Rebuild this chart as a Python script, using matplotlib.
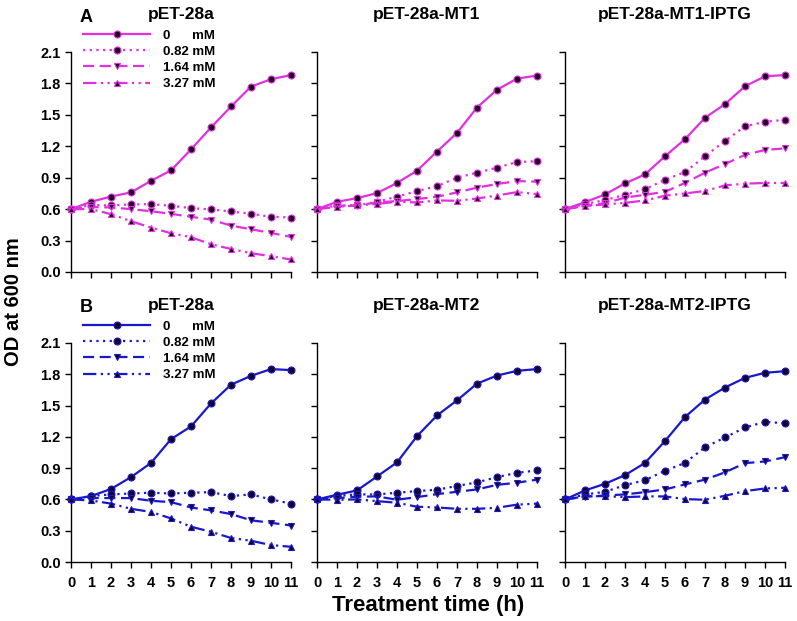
import matplotlib
matplotlib.use("Agg")
import matplotlib.pyplot as plt
import numpy as np

plt.rcParams['font.family'] = ['Liberation Sans', 'DejaVu Sans']
plt.rcParams['font.weight'] = 'bold'

hours = list(range(12))
conc_labels = ["0      mM", "0.82 mM", "1.64 mM", "3.27 mM"]

titles_top = ["pET-28a", "pET-28a-MT1", "pET-28a-MT1-IPTG"]
titles_bottom = ["pET-28a", "pET-28a-MT2", "pET-28a-MT2-IPTG"]

# Row A (magenta)
a1_0 = [0.60, 0.67, 0.72, 0.76, 0.87, 0.97, 1.17, 1.38, 1.58, 1.77, 1.84, 1.88]
a1_1 = [0.60, 0.64, 0.635, 0.645, 0.648, 0.632, 0.61, 0.597, 0.578, 0.555, 0.527, 0.52]
a1_2 = [0.60, 0.62, 0.616, 0.60, 0.58, 0.555, 0.527, 0.50, 0.443, 0.408, 0.373, 0.335]
a1_3 = [0.60, 0.60, 0.552, 0.485, 0.424, 0.37, 0.332, 0.265, 0.22, 0.18, 0.15, 0.12]

a2_0 = [0.60, 0.67, 0.705, 0.753, 0.85, 0.967, 1.15, 1.328, 1.57, 1.74, 1.846, 1.875]
a2_1 = [0.60, 0.635, 0.635, 0.67, 0.72, 0.772, 0.82, 0.90, 0.948, 0.996, 1.05, 1.057]
a2_2 = [0.60, 0.632, 0.635, 0.664, 0.677, 0.696, 0.718, 0.76, 0.805, 0.84, 0.868, 0.862]
a2_3 = [0.60, 0.622, 0.635, 0.65, 0.67, 0.664, 0.683, 0.68, 0.702, 0.73, 0.763, 0.744]

a3_0 = [0.60, 0.667, 0.74, 0.846, 0.932, 1.105, 1.268, 1.472, 1.603, 1.773, 1.868, 1.88]
a3_1 = [0.60, 0.65, 0.686, 0.737, 0.79, 0.88, 0.955, 1.105, 1.252, 1.39, 1.434, 1.453]
a3_2 = [0.60, 0.632, 0.657, 0.71, 0.737, 0.766, 0.85, 0.948, 1.031, 1.118, 1.165, 1.18]
a3_3 = [0.60, 0.629, 0.645, 0.66, 0.683, 0.728, 0.75, 0.773, 0.827, 0.843, 0.85, 0.85]

# Row B (blue)
b1_0 = [0.60, 0.632, 0.70, 0.814, 0.95, 1.178, 1.30, 1.52, 1.70, 1.785, 1.85, 1.84]
b1_1 = [0.60, 0.632, 0.648, 0.657, 0.664, 0.657, 0.664, 0.67, 0.632, 0.648, 0.60, 0.56]
b1_2 = [0.60, 0.613, 0.613, 0.613, 0.587, 0.574, 0.523, 0.495, 0.46, 0.40, 0.376, 0.35]
b1_3 = [0.60, 0.59, 0.56, 0.51, 0.48, 0.418, 0.338, 0.29, 0.23, 0.204, 0.162, 0.146]

b2_0 = [0.60, 0.645, 0.686, 0.82, 0.955, 1.207, 1.405, 1.55, 1.71, 1.788, 1.833, 1.85]
b2_1 = [0.60, 0.635, 0.648, 0.648, 0.664, 0.68, 0.693, 0.73, 0.763, 0.814, 0.855, 0.878]
b2_2 = [0.60, 0.613, 0.626, 0.629, 0.597, 0.622, 0.651, 0.673, 0.696, 0.74, 0.76, 0.79]
b2_3 = [0.60, 0.597, 0.60, 0.584, 0.568, 0.53, 0.523, 0.51, 0.51, 0.52, 0.55, 0.56]

b3_0 = [0.60, 0.686, 0.75, 0.833, 0.95, 1.16, 1.39, 1.558, 1.673, 1.766, 1.814, 1.83]
b3_1 = [0.60, 0.648, 0.673, 0.737, 0.785, 0.875, 0.95, 1.10, 1.194, 1.29, 1.344, 1.33]
b3_2 = [0.60, 0.626, 0.638, 0.648, 0.67, 0.696, 0.744, 0.79, 0.86, 0.948, 0.964, 1.005]
b3_3 = [0.60, 0.629, 0.632, 0.622, 0.629, 0.629, 0.603, 0.597, 0.635, 0.68, 0.705, 0.712]

rows = [
    ("A", "#E030E0", titles_top, [[a1_0, a1_1, a1_2, a1_3], [a2_0, a2_1, a2_2, a2_3], [a3_0, a3_1, a3_2, a3_3]]),
    ("B", "#1818CC", titles_bottom, [[b1_0, b1_1, b1_2, b1_3], [b2_0, b2_1, b2_2, b2_3], [b3_0, b3_1, b3_2, b3_3]]),
]

styles = [
    dict(linestyle='-', marker='o', ms=5),
    dict(linestyle=(0, (1, 2)), marker='o', ms=5),
    dict(linestyle=(0, (5, 2.5)), marker='v', ms=5),
    dict(linestyle=(0, (6, 2, 1, 2, 1, 2)), marker='^', ms=4.5),
]

W, H = 797, 621
fig = plt.figure(figsize=(W / 100, H / 100), dpi=100)

col_lefts = [71, 317, 565]
panel_w = 220
row_tops = [52, 343]
panel_h = [220, 219]

for r, (letter, color, titles, panels) in enumerate(rows):
    for c in range(3):
        left = col_lefts[c] / W
        bottom = 1 - (row_tops[r] + panel_h[r]) / H
        ax = fig.add_axes([left, bottom, panel_w / W, panel_h[r] / H])
        for k, series in enumerate(panels[c]):
            st = styles[k]
            ax.plot(hours, series, color=color, lw=1.6, linestyle=st['linestyle'],
                    marker=st['marker'], ms=st['ms'], mfc='#1a001a', mec=color,
                    mew=0.8, clip_on=False, label=conc_labels[k], zorder=3)
        ax.set_xlim(0, 11)
        ax.set_ylim(0, 2.1)
        ax.set_yticks(np.arange(0, 2.11, 0.3))
        ax.set_xticks(hours)
        for s in ['top', 'right']:
            ax.spines[s].set_visible(False)
        for s in ['left', 'bottom']:
            ax.spines[s].set_linewidth(1.0)
        ax.tick_params(direction='out', length=4, width=1, labelsize=10.5)
        if c == 0:
            ax.set_yticklabels([f"{v:.1f}" for v in np.arange(0, 2.11, 0.3)], fontweight='bold')
        else:
            ax.set_yticklabels([])
        if r == 1:
            ax.set_xticklabels([str(h) for h in hours], fontweight='bold')
            ax.tick_params(axis='x', pad=6)
        else:
            ax.set_xticklabels([])
        ax.set_title(titles[c], fontsize=12.5, fontweight='bold', pad=24)
        if c == 0:
            leg = ax.legend(loc='upper left', bbox_to_anchor=(0.012, 1.145), frameon=False,
                            fontsize=9.5, handlelength=5.1, handletextpad=1.0,
                            labelspacing=0.3, borderaxespad=0.3)
            for t in leg.get_texts():
                t.set_fontweight('bold')
            fig.text(86 / W, 1 - (17 + r * 290) / H, letter, fontsize=13, fontweight='bold',
                     ha='center', va='center')

fig.text(14 / W, 1 - 302 / H, "OD at 600 nm", rotation=90, fontsize=14.5,
         fontweight='bold', ha='center', va='center')
fig.text(428 / W, 1 - 605 / H, "Treatment time (h)", fontsize=16,
         fontweight='bold', ha='center', va='center')

fig.savefig("out.png", dpi=100)
